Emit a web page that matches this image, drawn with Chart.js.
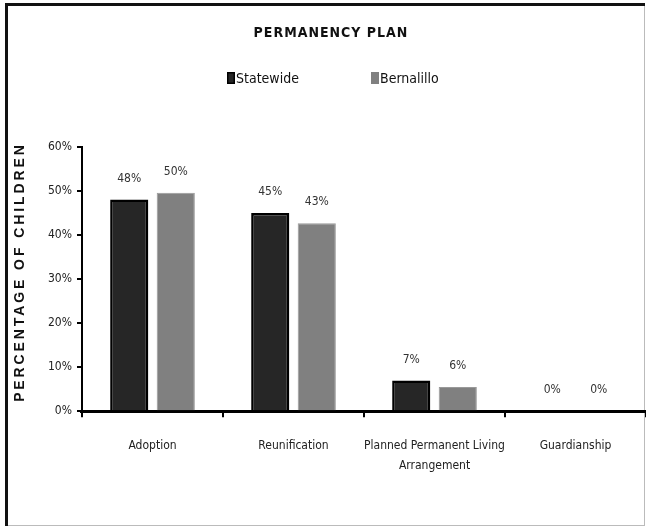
<!DOCTYPE html>
<html>
<head>
<meta charset="utf-8">
<script src="https://cdn.jsdelivr.net/npm/chart.js@4/dist/chart.umd.min.js"></script>
<style>
  html, body { margin: 0; padding: 0; background: #fff; }
  #wrap { width: 646px; height: 527px; position: relative; }
</style>
</head>
<body>
<div id="wrap"><canvas id="permChart" width="646" height="527"></canvas></div>
<script>
const CATEGORIES = ['Adoption', 'Reunification', ['Planned Permanent Living', 'Arrangement'], 'Guardianship'];
const STATEWIDE = [48.1, 45.0, 7.0, 0];
const BERNALILLO = [49.6, 42.7, 5.5, 0];
const Y_TICKS = [0, 10, 20, 30, 40, 50, 60];
const Y_TITLE = 'PERCENTAGE OF CHILDREN';

const NARROW = "'Liberation Sans Narrow', 'DejaVu Sans Condensed', Arial, sans-serif";

// outer frame, title, legend, axis title and value labels
const decor = {
  id: 'decor',
  beforeDraw(chart) {
    const c = chart.ctx;
    c.save();
    c.fillStyle = '#fff';
    c.fillRect(0, 0, chart.width, chart.height);
    c.strokeStyle = '#bbb';
    c.lineWidth = 1;
    c.strokeRect(6.5, 4.5, 638, 521);
    c.strokeStyle = '#111';
    c.lineWidth = 3;
    c.beginPath();
    c.moveTo(6.5, 526); c.lineTo(6.5, 4.5); c.lineTo(645, 4.5);
    c.stroke();
    c.restore();
  },
  afterDraw(chart) {
    const c = chart.ctx;
    const area = chart.chartArea;
    c.save();
    c.fillStyle = '#111';
    c.textAlign = 'center';
    c.textBaseline = 'middle';
    c.font = "bold 14px " + NARROW;
    c.letterSpacing = '1px';
    c.fillText('PERMANENCY PLAN', 331, 33);
    c.letterSpacing = '0px';

    // legend
    c.font = "14px " + NARROW;
    c.textAlign = 'left';
    const items = [[227, chart.data.datasets[0]], [371, chart.data.datasets[1]]];
    for (const [x, ds] of items) {
      c.fillStyle = ds.backgroundColor;
      c.fillRect(x, 72, 8, 12);
      if (ds.borderWidth > 1) {
        c.strokeStyle = '#000';
        c.lineWidth = 1.5;
        c.strokeRect(x + 0.75, 72.75, 6.5, 10.5);
      }
      c.fillStyle = '#111';
      c.fillText(ds.label, x + 9, 79);
    }

    // y axis title
    c.save();
    c.translate(20, (area.top + area.bottom) / 2 - 7);
    c.rotate(-Math.PI / 2);
    c.textAlign = 'center';
    c.font = "bold 14px 'Liberation Sans', Arial, sans-serif";
    c.letterSpacing = '2.9px';
    c.fillStyle = '#111';
    c.fillText(Y_TITLE, 0, 0);
    c.restore();

    // value labels
    c.font = "12px " + NARROW;
    c.textAlign = 'center';
    c.fillStyle = '#333';
    chart.data.datasets.forEach((ds, i) => {
      chart.getDatasetMeta(i).data.forEach((bar, j) => {
        c.fillText(Math.round(ds.data[j]) + '%', bar.x, bar.y - 21);
      });
    });
    c.restore();
  }
};

new Chart(document.getElementById('permChart'), {
  type: 'bar',
  data: {
    labels: CATEGORIES,
    datasets: [
      { label: 'Statewide', data: STATEWIDE, backgroundColor: '#262626', borderColor: '#000', borderWidth: 2.5, borderSkipped: 'bottom' },
      { label: 'Bernalillo', data: BERNALILLO, backgroundColor: '#808080', borderColor: '#999', borderWidth: 1, borderSkipped: 'bottom' },
    ],
  },
  options: {
    responsive: false,
    animation: false,
    devicePixelRatio: 1,
    categoryPercentage: 0.66,
    barPercentage: 0.82,
    layout: { padding: { top: 147, left: 43, right: 0, bottom: 33 } },
    plugins: { legend: { display: false }, title: { display: false }, tooltip: { enabled: false } },
    scales: {
      x: {
        grid: { display: true, drawOnChartArea: false, drawTicks: true, tickLength: 6, color: '#000', lineWidth: 2 },
        border: { display: true, color: '#000', width: 3 },
        ticks: { color: '#222', font: { family: NARROW, size: 12, lineHeight: 1.7 }, padding: 18, maxRotation: 0, autoSkip: false },
      },
      y: {
        min: 0, max: 60,
        afterBuildTicks: axis => { axis.ticks = Y_TICKS.map(v => ({ value: v })); },
        grid: { display: true, drawOnChartArea: false, tickLength: 5, color: '#000', lineWidth: 2 },
        border: { display: true, color: '#000', width: 2 },
        ticks: { color: '#222', font: { family: NARROW, size: 12 }, padding: 5, callback: v => v + '%' },
      },
    },
  },
  plugins: [decor],
});
</script>
</body>
</html>
